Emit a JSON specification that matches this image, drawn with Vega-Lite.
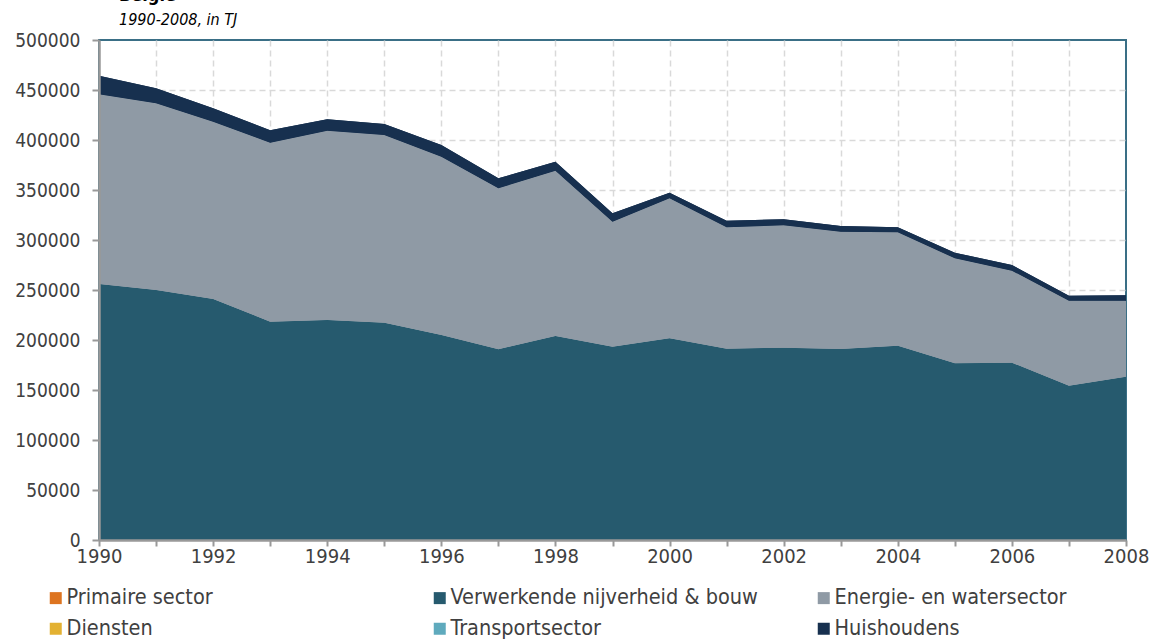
{
  "$schema": "https://vega.github.io/schema/vega-lite/v6.json",
  "width": 1027,
  "height": 500,
  "autosize": {"type": "none"},
  "padding": {"left": 99, "top": 40, "right": 26, "bottom": 99},
  "background": "white",
  "title": {
    "text": "België",
    "subtitle": "1990-2008, in TJ",
    "anchor": "start",
    "frame": "group",
    "dx": 20,
    "offset": 3,
    "font": "DejaVu Sans Condensed",
    "fontSize": 18,
    "fontWeight": "bold",
    "color": "#000000",
    "subtitleFont": "DejaVu Sans Condensed",
    "subtitleFontSize": 16,
    "subtitleFontStyle": "italic",
    "subtitleColor": "#000000",
    "subtitlePadding": 7
  },
  "config": {
    "view": {"stroke": "#3A6F86", "strokeWidth": 2},
    "font": "DejaVu Sans Condensed"
  },
  "data": {
    "values": [
      {"year": 1990, "sector": "Primaire sector", "value": 0},
      {"year": 1990, "sector": "Verwerkende nijverheid & bouw", "value": 256000},
      {"year": 1990, "sector": "Energie- en watersector", "value": 189700},
      {"year": 1990, "sector": "Diensten", "value": 0},
      {"year": 1990, "sector": "Transportsector", "value": 0},
      {"year": 1990, "sector": "Huishoudens", "value": 18600},
      {"year": 1991, "sector": "Primaire sector", "value": 0},
      {"year": 1991, "sector": "Verwerkende nijverheid & bouw", "value": 250000},
      {"year": 1991, "sector": "Energie- en watersector", "value": 186700},
      {"year": 1991, "sector": "Diensten", "value": 0},
      {"year": 1991, "sector": "Transportsector", "value": 0},
      {"year": 1991, "sector": "Huishoudens", "value": 15000},
      {"year": 1992, "sector": "Primaire sector", "value": 0},
      {"year": 1992, "sector": "Verwerkende nijverheid & bouw", "value": 241000},
      {"year": 1992, "sector": "Energie- en watersector", "value": 177300},
      {"year": 1992, "sector": "Diensten", "value": 0},
      {"year": 1992, "sector": "Transportsector", "value": 0},
      {"year": 1992, "sector": "Huishoudens", "value": 13400},
      {"year": 1993, "sector": "Primaire sector", "value": 0},
      {"year": 1993, "sector": "Verwerkende nijverheid & bouw", "value": 218300},
      {"year": 1993, "sector": "Energie- en watersector", "value": 179000},
      {"year": 1993, "sector": "Diensten", "value": 0},
      {"year": 1993, "sector": "Transportsector", "value": 0},
      {"year": 1993, "sector": "Huishoudens", "value": 12400},
      {"year": 1994, "sector": "Primaire sector", "value": 0},
      {"year": 1994, "sector": "Verwerkende nijverheid & bouw", "value": 220000},
      {"year": 1994, "sector": "Energie- en watersector", "value": 189300},
      {"year": 1994, "sector": "Diensten", "value": 0},
      {"year": 1994, "sector": "Transportsector", "value": 0},
      {"year": 1994, "sector": "Huishoudens", "value": 11400},
      {"year": 1995, "sector": "Primaire sector", "value": 0},
      {"year": 1995, "sector": "Verwerkende nijverheid & bouw", "value": 217300},
      {"year": 1995, "sector": "Energie- en watersector", "value": 187700},
      {"year": 1995, "sector": "Diensten", "value": 0},
      {"year": 1995, "sector": "Transportsector", "value": 0},
      {"year": 1995, "sector": "Huishoudens", "value": 11000},
      {"year": 1996, "sector": "Primaire sector", "value": 0},
      {"year": 1996, "sector": "Verwerkende nijverheid & bouw", "value": 205000},
      {"year": 1996, "sector": "Energie- en watersector", "value": 178300},
      {"year": 1996, "sector": "Diensten", "value": 0},
      {"year": 1996, "sector": "Transportsector", "value": 0},
      {"year": 1996, "sector": "Huishoudens", "value": 11700},
      {"year": 1997, "sector": "Primaire sector", "value": 0},
      {"year": 1997, "sector": "Verwerkende nijverheid & bouw", "value": 190700},
      {"year": 1997, "sector": "Energie- en watersector", "value": 161000},
      {"year": 1997, "sector": "Diensten", "value": 0},
      {"year": 1997, "sector": "Transportsector", "value": 0},
      {"year": 1997, "sector": "Huishoudens", "value": 10000},
      {"year": 1998, "sector": "Primaire sector", "value": 0},
      {"year": 1998, "sector": "Verwerkende nijverheid & bouw", "value": 204000},
      {"year": 1998, "sector": "Energie- en watersector", "value": 165300},
      {"year": 1998, "sector": "Diensten", "value": 0},
      {"year": 1998, "sector": "Transportsector", "value": 0},
      {"year": 1998, "sector": "Huishoudens", "value": 9000},
      {"year": 1999, "sector": "Primaire sector", "value": 0},
      {"year": 1999, "sector": "Verwerkende nijverheid & bouw", "value": 193300},
      {"year": 1999, "sector": "Energie- en watersector", "value": 125000},
      {"year": 1999, "sector": "Diensten", "value": 0},
      {"year": 1999, "sector": "Transportsector", "value": 0},
      {"year": 1999, "sector": "Huishoudens", "value": 8400},
      {"year": 2000, "sector": "Primaire sector", "value": 0},
      {"year": 2000, "sector": "Verwerkende nijverheid & bouw", "value": 201700},
      {"year": 2000, "sector": "Energie- en watersector", "value": 140000},
      {"year": 2000, "sector": "Diensten", "value": 0},
      {"year": 2000, "sector": "Transportsector", "value": 0},
      {"year": 2000, "sector": "Huishoudens", "value": 5600},
      {"year": 2001, "sector": "Primaire sector", "value": 0},
      {"year": 2001, "sector": "Verwerkende nijverheid & bouw", "value": 191300},
      {"year": 2001, "sector": "Energie- en watersector", "value": 121400},
      {"year": 2001, "sector": "Diensten", "value": 0},
      {"year": 2001, "sector": "Transportsector", "value": 0},
      {"year": 2001, "sector": "Huishoudens", "value": 6600},
      {"year": 2002, "sector": "Primaire sector", "value": 0},
      {"year": 2002, "sector": "Verwerkende nijverheid & bouw", "value": 192300},
      {"year": 2002, "sector": "Energie- en watersector", "value": 122400},
      {"year": 2002, "sector": "Diensten", "value": 0},
      {"year": 2002, "sector": "Transportsector", "value": 0},
      {"year": 2002, "sector": "Huishoudens", "value": 6000},
      {"year": 2003, "sector": "Primaire sector", "value": 0},
      {"year": 2003, "sector": "Verwerkende nijverheid & bouw", "value": 191000},
      {"year": 2003, "sector": "Energie- en watersector", "value": 117300},
      {"year": 2003, "sector": "Diensten", "value": 0},
      {"year": 2003, "sector": "Transportsector", "value": 0},
      {"year": 2003, "sector": "Huishoudens", "value": 5700},
      {"year": 2004, "sector": "Primaire sector", "value": 0},
      {"year": 2004, "sector": "Verwerkende nijverheid & bouw", "value": 194300},
      {"year": 2004, "sector": "Energie- en watersector", "value": 113400},
      {"year": 2004, "sector": "Diensten", "value": 0},
      {"year": 2004, "sector": "Transportsector", "value": 0},
      {"year": 2004, "sector": "Huishoudens", "value": 5000},
      {"year": 2005, "sector": "Primaire sector", "value": 0},
      {"year": 2005, "sector": "Verwerkende nijverheid & bouw", "value": 176700},
      {"year": 2005, "sector": "Energie- en watersector", "value": 105000},
      {"year": 2005, "sector": "Diensten", "value": 0},
      {"year": 2005, "sector": "Transportsector", "value": 0},
      {"year": 2005, "sector": "Huishoudens", "value": 5600},
      {"year": 2006, "sector": "Primaire sector", "value": 0},
      {"year": 2006, "sector": "Verwerkende nijverheid & bouw", "value": 177300},
      {"year": 2006, "sector": "Energie- en watersector", "value": 92000},
      {"year": 2006, "sector": "Diensten", "value": 0},
      {"year": 2006, "sector": "Transportsector", "value": 0},
      {"year": 2006, "sector": "Huishoudens", "value": 5700},
      {"year": 2007, "sector": "Primaire sector", "value": 0},
      {"year": 2007, "sector": "Verwerkende nijverheid & bouw", "value": 154300},
      {"year": 2007, "sector": "Energie- en watersector", "value": 85000},
      {"year": 2007, "sector": "Diensten", "value": 0},
      {"year": 2007, "sector": "Transportsector", "value": 0},
      {"year": 2007, "sector": "Huishoudens", "value": 5000},
      {"year": 2008, "sector": "Primaire sector", "value": 0},
      {"year": 2008, "sector": "Verwerkende nijverheid & bouw", "value": 163300},
      {"year": 2008, "sector": "Energie- en watersector", "value": 76000},
      {"year": 2008, "sector": "Diensten", "value": 0},
      {"year": 2008, "sector": "Transportsector", "value": 0},
      {"year": 2008, "sector": "Huishoudens", "value": 5400}
    ]
  },
  "transform": [
    {"calculate": "indexof(['Primaire sector','Verwerkende nijverheid & bouw','Energie- en watersector','Diensten','Transportsector','Huishoudens'], datum.sector)", "as": "ord"}
  ],
  "encoding": {
    "color": {
      "field": "sector",
      "type": "nominal",
      "sort": ["Primaire sector","Verwerkende nijverheid & bouw","Energie- en watersector","Diensten","Transportsector","Huishoudens"],
      "scale": {
        "domain": ["Primaire sector","Verwerkende nijverheid & bouw","Energie- en watersector","Diensten","Transportsector","Huishoudens"],
        "range": ["#DD7420","#265A6E","#8F9AA5","#E3B132","#5FAABD","#17304F"]
      },
      "legend": {
        "title": null,
        "orient": "none",
        "legendX": -54,
        "legendY": 547,
        "direction": "horizontal",
        "columns": 3,
        "gridAlign": "all",
        "columnPadding": 55,
        "rowPadding": 8,
        "symbolType": "square",
        "symbolSize": 144,
        "symbolStrokeWidth": 0,
        "symbolOpacity": 1,
        "labelFontSize": 21.5,
        "labelColor": "#404040",
        "labelOffset": 0,
        "labelLimit": 400
      }
    },
    "order": {"field": "ord", "type": "quantitative", "sort": "ascending"}
  },
  "layer": [
    {
      "mark": {"type": "area", "interpolate": "linear", "opacity": 1},
      "encoding": {
        "x": {
          "field": "year",
          "type": "quantitative",
          "scale": {"domain": [1990, 2008], "nice": false, "zero": false},
          "axis": {
            "title": null,
            "zindex": 0,
            "values": [1991,1992,1993,1994,1995,1996,1997,1998,1999,2000,2001,2002,2003,2004,2005,2006,2007],
            "labels": false,
            "ticks": false,
            "domain": false,
            "grid": true,
            "gridColor": "#d9d9d9",
            "gridDash": [6, 4],
            "gridWidth": 1.5
          }
        },
        "y": {
          "field": "value",
          "type": "quantitative",
          "stack": "zero",
          "scale": {"domain": [0, 500000], "nice": false},
          "axis": {
            "title": null,
            "zindex": 0,
            "values": [50000,100000,150000,200000,250000,300000,350000,400000,450000],
            "labels": false,
            "ticks": false,
            "domain": false,
            "grid": true,
            "gridColor": "#d9d9d9",
            "gridDash": [6, 4],
            "gridWidth": 1.5
          }
        }
      }
    },
    {
      "mark": {"type": "area", "interpolate": "linear", "opacity": 1},
      "encoding": {
        "x": {
          "field": "year",
          "type": "quantitative",
          "scale": {"domain": [1990, 2008], "nice": false, "zero": false},
          "axis": {
            "title": null,
            "orient": "bottom",
            "zindex": 1,
            "grid": false,
            "values": [1990,1991,1992,1993,1994,1995,1996,1997,1998,1999,2000,2001,2002,2003,2004,2005,2006,2007,2008],
            "labelExpr": "datum.value % 2 == 0 ? format(datum.value, 'd') : ''",
            "labelFontSize": 20,
            "labelColor": "#404040",
            "labelPadding": 0,
            "labelFlush": false,
            "labelOverlap": false,
            "domainColor": "#999999",
            "domainWidth": 2.5,
            "tickColor": "#999999",
            "tickWidth": 2,
            "tickSize": 6
          }
        },
        "y": {
          "field": "value",
          "type": "quantitative",
          "stack": "zero",
          "scale": {"domain": [0, 500000], "nice": false},
          "axis": {
            "title": null,
            "orient": "left",
            "zindex": 1,
            "grid": false,
            "values": [0,50000,100000,150000,200000,250000,300000,350000,400000,450000,500000],
            "format": "d",
            "labelFontSize": 19,
            "labelColor": "#404040",
            "labelPadding": 12,
            "domainColor": "#999999",
            "domainWidth": 2.5,
            "tickColor": "#999999",
            "tickWidth": 2,
            "tickSize": 7
          }
        }
      }
    }
  ],
  "resolve": {"axis": {"x": "independent", "y": "independent"}}
}
